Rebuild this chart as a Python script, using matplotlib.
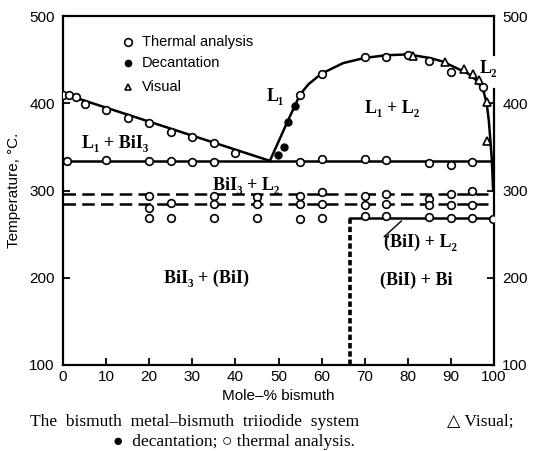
import matplotlib
matplotlib.use("Agg")
import matplotlib.pyplot as plt

# --- data (mole-% Bi, temperature in C) ---
liq_line_x = [0, 48]
liq_line_t = [411, 334]

mono_line_x = [0, 99.5]
mono_line_t = [334, 334]

dome_x = [48, 52, 55, 57, 60, 65, 70, 75, 80, 85, 88, 91, 94, 96, 97.5, 98.3, 98.8, 99.2, 99.5, 99.8]
dome_t = [334, 378, 410, 422, 434, 446, 452, 455, 456, 452, 448, 441, 434, 426, 415, 400, 380, 355, 335, 300]

dash_hi_t = 296
dash_lo_t = 284
bii_x = 66.7
bii_line_t = 268

thermal_liq_x = [0, 1.5, 3, 5, 10, 15, 20, 25, 30, 35, 40]
thermal_liq_t = [410, 409, 407, 399, 392, 383, 377, 367, 361, 355, 343]

thermal_mono_x = [1, 10, 20, 25, 30, 35, 55, 60, 70, 75, 85, 90, 95]
thermal_mono_t = [334, 335, 334, 334, 333, 333, 333, 336, 336, 335, 332, 329, 333]

thermal_dome_x = [55, 60, 70, 75, 80, 85, 90, 97.5]
thermal_dome_t = [410, 433, 453, 453, 455, 448, 436, 419]

thermal_hi_x = [20, 35, 45, 55, 60, 70, 75, 85, 90, 95]
thermal_hi_t = [294, 294, 293, 294, 298, 294, 296, 290, 296, 300]

thermal_mid_x = [20, 25, 35, 45, 55, 60, 70, 75, 85, 90, 95]
thermal_mid_t = [280, 286, 285, 284, 284, 285, 283, 285, 283, 283, 283]

thermal_lo_x = [20, 25, 35, 45, 55, 60, 70, 75, 85, 90, 95, 99.7]
thermal_lo_t = [268, 268, 268, 268, 267, 269, 271, 271, 270, 268, 268, 267]

decant_x = [49.8, 51.3, 52.1, 53.8]
decant_t = [341, 350, 379, 397]

visual_x = [81.3, 88.6, 93.1, 95.2, 96.6, 98.4, 98.3]
visual_t = [454, 447, 439, 434, 427, 401, 357]

SANS = ["Liberation Sans", "DejaVu Sans"]
SERIF = ["Liberation Serif", "DejaVu Serif"]

fig = plt.figure(figsize=(5.48, 4.51), dpi=100)
ax = fig.add_axes([63 / 548, 1 - 365 / 451, (494 - 63) / 548, (365 - 16) / 451])

# --- lines ---
ax.plot(liq_line_x, liq_line_t, color="black", lw=1.8, zorder=2)
ax.plot(mono_line_x, mono_line_t, color="black", lw=1.8, zorder=2)
ax.plot(dome_x, dome_t, color="black", lw=1.8, zorder=2)
ax.plot([0, 100], [dash_hi_t, dash_hi_t], color="black", lw=1.8, ls=(0, (5, 2.5)), zorder=2)
ax.plot([0, 100], [dash_lo_t, dash_lo_t], color="black", lw=1.8, ls=(0, (5, 2.5)), zorder=2)
ax.plot([bii_x, 100], [bii_line_t, bii_line_t], color="black", lw=1.8, zorder=2)
ax.plot([bii_x, bii_x], [100, bii_line_t], color="black", lw=2.6, ls=(0, (1.5, 0.8)), zorder=2)

# --- points ---
open_kw = dict(ls="none", marker="o", ms=5.5, mfc="white", mec="black", mew=1.2, zorder=5)
for xs, ts in [(thermal_liq_x, thermal_liq_t), (thermal_mono_x, thermal_mono_t),
               (thermal_dome_x, thermal_dome_t), (thermal_hi_x, thermal_hi_t),
               (thermal_mid_x, thermal_mid_t), (thermal_lo_x, thermal_lo_t)]:
    ax.plot(xs, ts, **open_kw)
ax.plot(decant_x, decant_t, ls="none", marker="o", ms=5, color="black", zorder=5)
ax.plot(visual_x, visual_t, ls="none", marker="^", ms=6, mfc="white", mec="black", mew=1.2, zorder=5)

# --- in-plot legend ---
ax.plot([15], [470], **open_kw)
ax.plot([15], [446], ls="none", marker="o", ms=4.5, color="black")
ax.plot([15], [419], ls="none", marker="^", ms=5, mfc="white", mec="black", mew=1.2)
for t, s in [(470, "Thermal analysis"), (446, "Decantation"), (419, "Visual")]:
    ax.text(18.3, t, s, family=SANS, fontsize=10.5, va="center", ha="left")

# --- region labels ---
lab_kw = dict(family=SERIF, fontsize=13, fontweight="bold", ha="center", va="center")
ax.text(12, 354, "L₁ + BiI₃", **lab_kw)
ax.text(42.5, 306, "BiI₃ + L₂", **lab_kw)
ax.text(49.2, 408, "L₁", **lab_kw)
ax.text(76.3, 394, "L₁ + L₂", **lab_kw)
ax.text(98.7, 440, "L₂", **lab_kw)
ax.text(33.3, 199, "BiI₃ + (BiI)", **lab_kw)
ax.text(82, 197, "(BiI) + Bi", **lab_kw)
ax.text(74.5, 241, "(BiI) + L₂", family=SERIF, fontsize=13, fontweight="bold", ha="left", va="center")
ax.plot([78.5, 74.5, 75.5], [265, 247, 247], color="black", lw=1)

# --- frame ---
ax.set_xlim(0, 100)
ax.set_ylim(100, 500)
ax.spines["right"].set_visible(False)
for s in ["left", "bottom", "top"]:
    ax.spines[s].set_linewidth(1.6)
ax.plot([100, 100], [455, 500], color="black", lw=1.6, clip_on=False, zorder=3)
ax.plot([100, 100], [100, 416], color="black", lw=1.6, clip_on=False, zorder=3)

ax.set_xticks(range(0, 101, 10))
ax.set_yticks(range(100, 501, 100))
ax.tick_params(direction="in", length=5, width=1.3, labelsize=11, right=True, labelright=True)
ax.tick_params(axis="y", pad=6)
for lbl in ax.get_xticklabels() + ax.get_yticklabels():
    lbl.set_family(SANS)
for lbl in ax.yaxis.get_ticklabels(which="both"):
    lbl.set_family(SANS)

ax.set_xlabel("Mole–% bismuth", family=SANS, fontsize=11, labelpad=4)
ax.set_ylabel("Temperature, °C.", family=SANS, fontsize=11, labelpad=6)

# --- caption ---
fig.text(30 / 548, 1 - 422 / 451, "The  bismuth  metal–bismuth  triiodide  system",
         family=SERIF, fontsize=12.5, va="center", ha="left")
fig.text(447 / 548, 1 - 422 / 451, "△ Visual;", family=SERIF, fontsize=12.5, va="center", ha="left")
fig.text(113 / 548, 1 - 442 / 451, "●  decantation; ○ thermal analysis.",
         family=SERIF, fontsize=12.5, va="center", ha="left")

fig.savefig("out.png", dpi=100)
